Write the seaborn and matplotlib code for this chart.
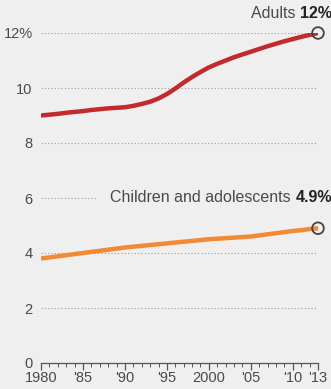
import numpy as np
import pandas as pd
import matplotlib
matplotlib.use('Agg')
import matplotlib.pyplot as plt
import seaborn as sns

years = list(range(1980, 2014))
adults = [9.0, 9.03, 9.06, 9.1, 9.13, 9.16, 9.2, 9.23, 9.26, 9.28,
          9.3, 9.35, 9.42, 9.5, 9.62, 9.78, 9.98, 10.2, 10.4, 10.58,
          10.75, 10.88, 11.0, 11.12, 11.22, 11.32, 11.42, 11.52, 11.61, 11.7,
          11.78, 11.86, 11.93, 12.0]
children = [3.8, 3.84, 3.88, 3.92, 3.96, 4.0, 4.04, 4.08, 4.12, 4.16,
            4.2, 4.23, 4.26, 4.29, 4.32, 4.35, 4.38, 4.41, 4.44, 4.47,
            4.5, 4.52, 4.54, 4.56, 4.58, 4.6, 4.64, 4.68, 4.72, 4.76,
            4.8, 4.83, 4.87, 4.9]
y_ticks = [0, 2, 4, 6, 8, 10, 12]
y_labels = ['0', '2', '4', '6', '8', '10', '12%']
x_ticks = [1980, 1985, 1990, 1995, 2000, 2005, 2010, 2013]
x_labels = ['1980', "'85", "'90", "'95", '2000', "'05", "'10", "'13"]

df = pd.DataFrame({'year': years, 'Adults': adults, 'Children': children})
long = df.melt('year', var_name='group', value_name='pct')

sns.set_style('white')
plt.rcParams['font.family'] = ['Liberation Sans', 'DejaVu Sans']
bg = '#efefef'
red = '#c22a2e'
orange = '#f28a33'
txt = '#4a4a4a'

fig = plt.figure(figsize=(3.31, 3.89), dpi=100, facecolor=bg)
ax = fig.add_axes([41/331, 26/389, 277/331, 330/389])
ax.set_facecolor(bg)

# dotted grid
for t in y_ticks[1:]:
    xmax = 1986.7 if t == 6 else 2013
    ax.plot([1980, xmax], [t, t], color='#999999', lw=0.8, ls=(0, (1, 2)), zorder=1)

sns.lineplot(data=long, x='year', y='pct', hue='group',
             palette={'Adults': red, 'Children': orange},
             linewidth=3.2, legend=False, ax=ax, zorder=3)
for ln in ax.lines[-2:]:
    ln.set_solid_capstyle('butt')

ax.scatter([2013, 2013], [adults[-1], children[-1]], s=70, facecolor='none',
           edgecolor='#444444', linewidth=1.3, zorder=4, clip_on=False)

ax.set_xlim(1980, 2013)
ax.set_ylim(0, 12)
for s in ['top', 'right', 'left']:
    ax.spines[s].set_visible(False)
ax.spines['bottom'].set_color('#555555')
ax.spines['bottom'].set_linewidth(0.9)

ax.set_xticks(x_ticks)
ax.set_xticklabels(x_labels)
ax.set_xticks(years, minor=True)
ax.tick_params(axis='x', which='both', bottom=True, direction='out')
ax.tick_params(axis='x', which='major', length=5, width=0.9, color='#555555',
               labelsize=10.5, labelcolor=txt, pad=1)
ax.tick_params(axis='x', which='minor', length=3, width=0.7, color='#555555')
ax.set_yticks(y_ticks)
ax.set_yticklabels(y_labels)
ax.tick_params(axis='y', length=0, labelsize=10.5, labelcolor=txt, pad=6)
ax.set_xlabel('')
ax.set_ylabel('')

# labels with bold values
b1 = ax.annotate('12%', xy=(2013, 12.7), xytext=(10, 0), textcoords='offset points',
                 ha='right', va='center', fontsize=11.5, fontweight='bold', color='#222222',
                 annotation_clip=False)
ax.annotate('Adults ', xy=(0, 0), xycoords=b1, ha='right', va='bottom',
            fontsize=11.5, color=txt)
b2 = ax.annotate('4.9%', xy=(2013, 6.0), xytext=(10, 0), textcoords='offset points',
                 ha='right', va='center', fontsize=11.5, fontweight='bold', color='#222222',
                 annotation_clip=False)
ax.annotate('Children and adolescents ', xy=(0, 0), xycoords=b2, ha='right', va='bottom',
            fontsize=11.5, color=txt)

plt.savefig('out.png', dpi=100, facecolor=bg)
